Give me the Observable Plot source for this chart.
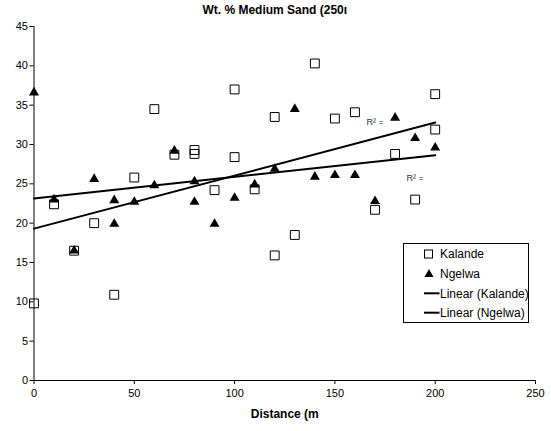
<!DOCTYPE html>
<html>
<head>
<meta charset="utf-8">
<script src="https://cdn.jsdelivr.net/npm/d3@7"></script>
<script src="https://cdn.jsdelivr.net/npm/@observablehq/plot@0.6"></script>
<style>
  body { margin: 0; background: #fff; }
  #wrap { position: relative; width: 551px; height: 431px; font-family: "Liberation Sans", Arial, sans-serif; }
  #legend { position: absolute; left: 403px; top: 243px; }
  #legend svg { display: block; }
</style>
</head>
<body>
<div id="wrap"></div>
<script>
// Kalande (squares)
const kalandeDistance = [0,10,20,30,40,50,60,70,80,80,90,100,100,110,120,120,130,140,150,160,170,180,190,200,200];
const kalandeSand     = [9.8,22.4,16.5,20.0,10.9,25.8,34.5,28.7,29.3,28.8,24.2,37.0,28.4,24.3,33.5,15.9,18.5,40.3,33.3,34.1,21.7,28.8,23.0,36.4,31.9];
// Ngelwa (triangles)
const ngelwaDistance = [0,10,20,30,40,40,50,60,70,80,80,90,100,110,120,130,140,150,160,170,180,190,200];
const ngelwaSand     = [36.6,23.0,16.5,25.6,22.9,19.9,22.7,24.8,29.2,25.3,22.7,19.9,23.2,24.9,26.9,34.5,25.9,26.1,26.1,22.8,33.4,30.8,29.6];

const xTicks = [0,50,100,150,200,250];
const yTicks = [0,5,10,15,20,25,30,35,40,45];
const titleText = "Wt. % Medium Sand (250\u03b9";
const xLabel = "Distance (m";
const r2Labels = ["R\u00b2 =", "R\u00b2 ="];
const r2X = [170, 190];
const r2Y = [32.9, 25.7];
const seriesNames = ["Kalande", "Ngelwa", "Linear (Kalande)", "Linear (Ngelwa)"];

const kalande = kalandeDistance.map((d, i) => ({x: d, y: kalandeSand[i]}));
const ngelwa = ngelwaDistance.map((d, i) => ({x: d, y: ngelwaSand[i]}));
const r2 = r2Labels.map((t, i) => ({t, x: r2X[i], y: r2Y[i]}));

const chart = Plot.plot({
  width: 551,
  height: 431,
  marginLeft: 33.5,
  marginRight: 16,
  marginTop: 26,
  marginBottom: 51,
  style: {fontFamily: "'Liberation Sans', Arial, sans-serif", fontSize: "11px", color: "#000", background: "#fff"},
  x: {domain: [0, 250], label: null},
  y: {domain: [0, 45], label: null},
  marks: [
    Plot.axisY({ticks: yTicks, tickSize: 4, tickPadding: 2, label: null, stroke: "#000", fontSize: 11}),
    Plot.axisX({ticks: xTicks, tickSize: 4, tickPadding: 5, label: null, stroke: "#000", fontSize: 11}),
    Plot.ruleX([0], {stroke: "#000", strokeWidth: 1}),
    Plot.ruleY([0], {stroke: "#000", strokeWidth: 1}),
    Plot.dot(kalande, {x: "x", y: "y", symbol: "square", r: 5, stroke: "#000", strokeWidth: 1, fill: "none"}),
    Plot.dot(ngelwa, {x: "x", y: "y", symbol: "triangle", r: 3.7, fill: "#000", stroke: "none"}),
    Plot.linearRegressionY(kalande, {x: "x", y: "y", stroke: "#000", strokeWidth: 2, ci: 0}),
    Plot.linearRegressionY(ngelwa, {x: "x", y: "y", stroke: "#000", strokeWidth: 2, ci: 0}),
    Plot.text(r2, {x: "x", y: "y", text: "t", fontSize: 9, fill: "#333"}),
    Plot.text([titleText], {frameAnchor: "top", lineAnchor: "middle", dy: -16, dx: -10, fontWeight: "bold", fontSize: 12, fill: "#000"}),
    Plot.text([xLabel], {frameAnchor: "bottom", lineAnchor: "middle", dy: 34, fontWeight: "bold", fontSize: 12, fill: "#000"})
  ]
});

const wrap = document.getElementById("wrap");
wrap.appendChild(chart);

// Legend
const rowY = [11, 30.5, 50.3, 69.7];
const swatches = [
  '<rect x="21.5" y="' + (rowY[0] - 4) + '" width="8" height="8" fill="none" stroke="#000"/>',
  '<path d="M26,' + (rowY[1] - 4.5) + ' L30.5,' + (rowY[1] + 3.5) + ' L21.5,' + (rowY[1] + 3.5) + ' Z" fill="#000"/>',
  '<line x1="21" y1="' + rowY[2] + '" x2="36.5" y2="' + rowY[2] + '" stroke="#000" stroke-width="2"/>',
  '<line x1="21" y1="' + rowY[3] + '" x2="36.5" y2="' + rowY[3] + '" stroke="#000" stroke-width="2"/>'
];
let svg = '<svg width="126" height="80" xmlns="http://www.w3.org/2000/svg">' +
  '<rect x="0.5" y="0.5" width="125" height="79" fill="#fff" stroke="#000"/>';
seriesNames.forEach((name, i) => {
  svg += swatches[i] +
    '<text x="37" y="' + rowY[i] + '" dy="0.35em" font-size="12" font-family="Liberation Sans, Arial, sans-serif" fill="#000">' + name + '</text>';
});
svg += '</svg>';
const legend = document.createElement("div");
legend.id = "legend";
legend.innerHTML = svg;
wrap.appendChild(legend);
</script>
</body>
</html>
